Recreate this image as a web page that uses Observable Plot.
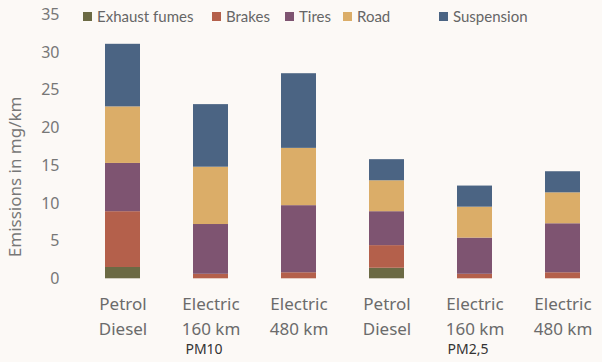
<!DOCTYPE html>
<html>
<head>
<meta charset="utf-8">
<script src="https://cdn.jsdelivr.net/npm/d3@7"></script>
<script src="https://cdn.jsdelivr.net/npm/@observablehq/plot@0.6"></script>
<style>
  html, body { margin: 0; padding: 0; background: #fcf9f6; }
  #wrap { position: relative; width: 602px; height: 362px; overflow: hidden; }
  #legend { position: absolute; top: 0; left: 0; width: 602px; height: 30px; font-family: Lato, "Noto Sans", sans-serif; font-size: 15px; color: #666; }
  #legend .item { position: absolute; top: 7px; display: flex; align-items: center; white-space: nowrap; }
  #legend .sw { width: 9px; height: 9px; margin-right: 5px; }
</style>
</head>
<body>
<div id="wrap"></div>
<script>
// ---- data ----
const ids = ["pm10-petrol", "pm10-e160", "pm10-e480", "pm25-petrol", "pm25-e160", "pm25-e480"];
const vehicleLabels = ["Petrol\nDiesel", "Electric\n160 km", "Electric\n480 km", "Petrol\nDiesel", "Electric\n160 km", "Electric\n480 km"];
const groupNames = ["PM10", "PM2,5"];
const groupAnchors = ["pm10-e160", "pm25-e160"];
const sources = ["Exhaust fumes", "Brakes", "Tires", "Road", "Suspension"];
const exhaust    = [1.5, 0.0, 0.0, 1.4, 0.0, 0.0];
const brakes     = [7.4, 0.6, 0.8, 3.0, 0.6, 0.8];
const tires      = [6.4, 6.6, 8.9, 4.5, 4.8, 6.5];
const road       = [7.5, 7.6, 7.6, 4.1, 4.1, 4.1];
const suspension = [8.3, 8.3, 9.9, 2.8, 2.8, 2.8];
const yTicks = [0, 5, 10, 15, 20, 25, 30, 35];

// ---- styles ----
const colors = ["#6b6a44", "#b4604b", "#7e5471", "#dbad68", "#4b6483"];
const legendX = [83, 212, 285, 343, 439];

const seriesValues = [exhaust, brakes, tires, road, suspension];
const rows = [];
sources.forEach((s, si) => {
  ids.forEach((id, i) => rows.push({id, source: s, value: seriesValues[si][i]}));
});
const labelOf = new Map(ids.map((id, i) => [id, vehicleLabels[i]]));
const groupRows = groupNames.map((g, i) => ({id: groupAnchors[i], name: g}));

const chart = Plot.plot({
  width: 602,
  height: 362,
  marginLeft: 87,
  marginRight: 3,
  marginTop: 14.4,
  marginBottom: 83.7,
  style: {background: "transparent"},
  x: {domain: ids, padding: 0.6, paddingOuter: 0.2, axis: null},
  y: {domain: [0, 35], axis: null},
  color: {domain: sources, range: colors},
  marks: [
    Plot.barY(rows, {x: "id", y: "value", fill: "source", order: sources}),
    Plot.axisY({
      ticks: yTicks, tickSize: 0, tickPadding: 28,
      fontSize: 16, fill: "#777",
      style: {fontFamily: "'Open Sans', 'Noto Sans', sans-serif"},
      label: null
    }),
    Plot.text(["Emissions in mg/km"], {
      frameAnchor: "left", textAnchor: "middle", rotate: -90, dx: -72, dy: 30,
      fontSize: 17, fill: "#777",
      style: {fontFamily: "'Open Sans', 'Noto Sans', sans-serif"}
    }),
    Plot.axisX({
      tickSize: 0, tickPadding: 13,
      tickFormat: d => labelOf.get(d),
      fontSize: 17, fill: "#6b6b6b", lineHeight: 1.5,
      style: {fontFamily: "Lato, 'Noto Sans', sans-serif"},
      label: null
    }),
    Plot.text(groupRows, {
      x: "id", text: "name", frameAnchor: "bottom", dy: 75, dx: -7,
      fontSize: 14, fill: "#333",
      style: {fontFamily: "'Open Sans', 'Noto Sans', sans-serif"}
    })
  ]
});

const wrap = document.getElementById("wrap");
wrap.appendChild(chart);

const legend = document.createElement("div");
legend.id = "legend";
sources.forEach((s, i) => {
  const item = document.createElement("div");
  item.className = "item";
  item.style.left = legendX[i] + "px";
  const sw = document.createElement("span");
  sw.className = "sw";
  sw.style.background = colors[i];
  const t = document.createElement("span");
  t.textContent = s;
  item.appendChild(sw);
  item.appendChild(t);
  legend.appendChild(item);
});
wrap.appendChild(legend);
</script>
</body>
</html>
